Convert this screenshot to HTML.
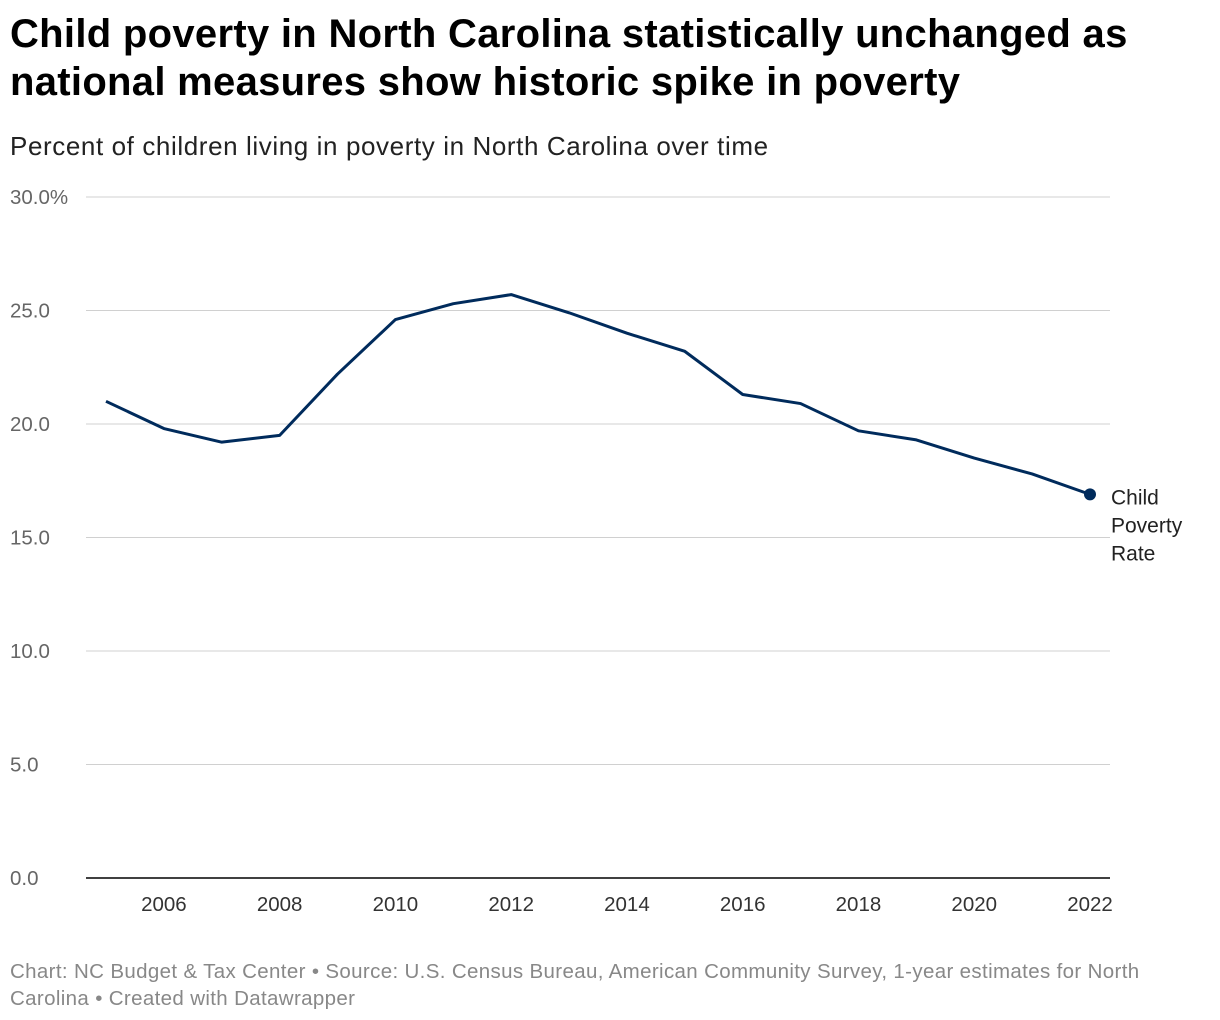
<!DOCTYPE html>
<html><head><meta charset="utf-8"><style>
body{margin:0;background:#fff;width:1220px;height:1020px;overflow:hidden;font-family:"Liberation Sans",sans-serif}
h1{position:absolute;left:10px;top:10px;width:1180px;margin:0;font-size:40px;line-height:48px;font-weight:bold;color:#000;letter-spacing:0.3px}
.sub{position:absolute;left:10px;top:131px;font-size:26px;color:#222;letter-spacing:0.6px}
.foot{position:absolute;left:10px;top:958px;width:1170px;font-size:20.5px;line-height:27px;color:#888;letter-spacing:0.35px}
svg{position:absolute;left:0;top:0}
</style></head><body>
<h1>Child poverty in North Carolina statistically unchanged as national measures show historic spike in poverty</h1>
<div class="sub">Percent of children living in poverty in North Carolina over time</div>
<svg id="chart" width="1220" height="1020"></svg>
<div class="foot">Chart: NC Budget &amp; Tax Center • Source: U.S. Census Bureau, American Community Survey, 1-year estimates for North Carolina • Created with Datawrapper</div>
<script>
const years=[2005,2006,2007,2008,2009,2010,2011,2012,2013,2014,2015,2016,2017,2018,2019,2020,2021,2022];
const rates=[21.0,19.8,19.2,19.5,22.2,24.6,25.3,25.7,24.9,24.0,23.2,21.3,20.9,19.7,19.3,18.5,17.8,16.9];
const yTicks=[0,5,10,15,20,25,30];
const yTickLabels=["0.0","5.0","10.0","15.0","20.0","25.0","30.0%"];
const xTicks=[2006,2008,2010,2012,2014,2016,2018,2020,2022];
const NS="http://www.w3.org/2000/svg";
const svg=document.getElementById('chart');
const x=v=>106+(v-2005)*(1090-106)/17;
const y=v=>878-v*(878-197)/30;
function mk(t,a){const e=document.createElementNS(NS,t);for(const k in a)e.setAttribute(k,a[k]);svg.appendChild(e);return e;}
yTicks.forEach((t,i)=>{
 const l=mk('line',{x1:86,x2:1110,y1:y(t),y2:y(t),stroke:t===0?'#000':'#d0d0d0','stroke-width':t===0?1.5:1});
 
 
 const tx=mk('text',{x:10,y:y(t)+7,'font-size':20.5,fill:'#666','font-family':'Liberation Sans, sans-serif'});
 tx.textContent=yTickLabels[i];
 
 
});
xTicks.forEach(t=>{
 const tx=mk('text',{x:x(t),y:911,'font-size':20.5,fill:'#333','text-anchor':'middle','font-family':'Liberation Sans, sans-serif'});
 tx.textContent=t;
 
 
});
const p=mk('polyline',{points:years.map((yr,i)=>x(yr)+','+y(rates[i])).join(' '),fill:'none',stroke:'#002b5c','stroke-width':3,'stroke-linejoin':'round'});


const n=years.length-1;
const c=mk('circle',{cx:x(years[n]),cy:y(rates[n]),r:6,fill:'#002b5c'});


["Child","Poverty","Rate"].forEach((s,i)=>{
 const tx=mk('text',{x:1111,y:y(rates[n])+10+i*28,'font-size':21,fill:'#222','font-family':'Liberation Sans, sans-serif'});
 tx.textContent=s;
 
 
});
</script>
</body></html>
